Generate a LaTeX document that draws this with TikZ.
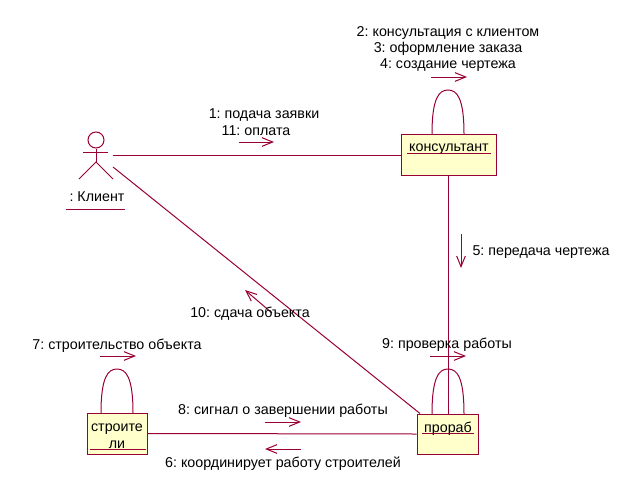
\documentclass[tikz,border=0pt]{standalone}
\usepackage{fontspec}
\setmainfont{Liberation Sans}
\usetikzlibrary{arrows.meta}
\definecolor{umlline}{RGB}{153,0,51}
\definecolor{umlfill}{RGB}{255,255,204}
\tikzset{
  obj/.style={draw=umlline,fill=umlfill,line width=0.75pt,inner sep=0pt},
  link/.style={draw=umlline,line width=0.75pt},
  msg/.style={draw=umlline,line width=0.75pt,-{Straight Barb[length=8pt,width=6.5pt]}},
  txt/.style={inner sep=0pt,font=\fontsize{10.7pt}{12pt}\selectfont\frenchspacing,text=black}
}
\begin{document}
\begin{tikzpicture}[x=0.75pt,y=-0.75pt]
    \useasboundingbox (0,0) rectangle (642,493);

    % objects
    \node[obj,minimum width=71.25pt,minimum height=30.75pt] (Konsultant) at(448.5,154.5) {};
    \node[obj,minimum width=45.75pt,minimum height=30pt] (Prorab) at(447.5,434) {};
    \node[obj,minimum width=45pt,minimum height=30.75pt] (Stroiteli) at(117,433.5) {};

    \node[txt] (KonsultantT) at(449,149) {консультант};
    \node[txt] (ProrabT) at(448,429) {прораб};
    \node[txt] (StroiteliA) at(117,429) {строите};
    \node[txt] (StroiteliB) at(117,445) {ли};
    \node[txt] (KlientT) at(97,197) {: Клиент};

    \coordinate (KonsultantL) at(407,153);
    \coordinate (KonsultantR) at(491,153);
    \coordinate (ProrabL) at(422,433.5);
    \coordinate (ProrabR) at(474,433.5);
    \coordinate (StroiteliL) at(90,449);
    \coordinate (StroiteliR) at(146,449);
    \coordinate (KlientL) at(66,209);
    \coordinate (KlientR) at(125,209);
    \foreach \a/\b in {KonsultantL/KonsultantR,ProrabL/ProrabR,StroiteliL/StroiteliR,KlientL/KlientR}
             {
               \draw[link] (\a) -- (\b);
             }

    % actor
    \node[draw=umlline,line width=0.75pt,circle,minimum size=12pt,inner sep=0pt] (Head) at(96,140) {};
    \coordinate (Hip) at(96,162);
    \coordinate (ArmL) at(83,152);
    \coordinate (ArmR) at(108,152);
    \coordinate (LegL) at(79,179);
    \coordinate (LegR) at(113,179);
    \draw[link] (Head) -- (Hip);
    \draw[link] (ArmL) -- (ArmR);
    \draw[link] (LegL) -- (Hip) -- (LegR);

    % links
    \coordinate (KlientA) at(113,155);
    \coordinate (KlientB) at(113,167);
    \coordinate (ProrabC) at(420,413.5);
    \draw[link] (KlientA) -- (Konsultant.west |- KlientA);
    \draw[link] (KlientB) -- (ProrabC);
    \draw[link] (Konsultant) -- (Prorab.north -| Konsultant);
    \draw[link] (Stroiteli.east) -- (Prorab.west);

    % self links
    \foreach \n/\x/\y/\t in {Konsultant/432/134/90,Prorab/432/414/369,Stroiteli/101/413/369}
             {
               \coordinate (\n S) at(\x,\y);
               \coordinate (\n E) at(\x+32,\y);
               \draw[link] (\n S) .. controls (\x,\t+8) and (\x+7,\t) .. (\x+16,\t)
                                  .. controls (\x+25,\t) and (\x+32,\t+8) .. (\n E);
             }

    % messages
    \foreach \x/\y/\u/\v/\nm in {239/142/274/142/a,431/77/467/77/b,461/234/461/268/c,
                                 272/313/245/290/d,430/356/466/356/e,100/356/136/356/f,
                                 265/422/301/422/g,301/449/265/449/h}
             {
               \coordinate (M\nm) at(\x,\y);
               \coordinate (N\nm) at(\u,\v);
               \draw[msg] (M\nm) -- (N\nm);
             }

    % labels
    \node[txt] (Msg2) at(448,33) {2: консультация с клиентом};
    \node[txt] (Msg3) at(448,49) {3: оформление заказа};
    \node[txt] (Msg4) at(448,65) {4: создание чертежа};
    \node[txt] (Msg1) at(264,115) {1: подача заявки};
    \node[txt] (Msg11) at(256,131) {11: оплата};
    \node[txt] (Msg5) at(541,252) {5: передача чертежа};
    \node[txt] (Msg10) at(250,314) {10: сдача объекта};
    \node[txt] (Msg9) at(447,345) {9: проверка работы};
    \node[txt] (Msg7) at(117,346) {7: строительство объекта};
    \node[txt] (Msg8) at(283,411) {8: сигнал о завершении работы};
    \node[txt] (Msg6) at(283,464) {6: координирует работу строителей};
\end{tikzpicture}
\end{document}
